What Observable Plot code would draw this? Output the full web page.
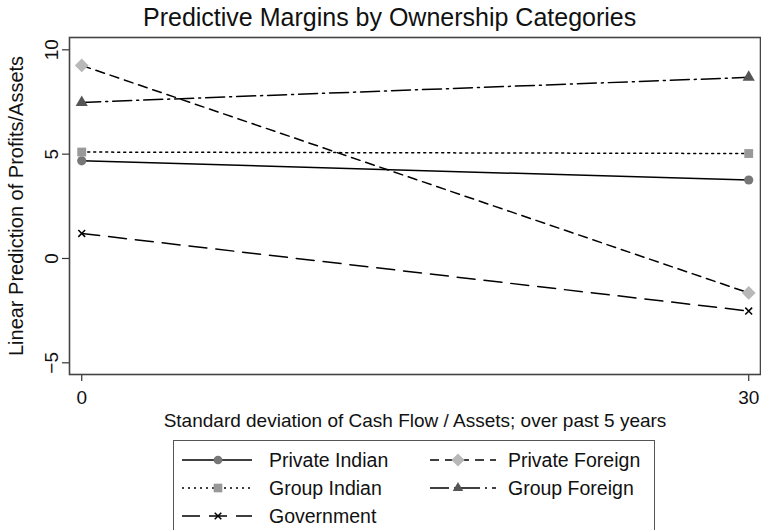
<!DOCTYPE html>
<html>
<head>
<meta charset="utf-8">
<script src="https://cdn.jsdelivr.net/npm/d3@7"></script>
<script src="https://cdn.jsdelivr.net/npm/@observablehq/plot@0.6"></script>
<style>
  html, body { margin: 0; padding: 0; background: #fff; }
  #wrap { position: relative; width: 761px; height: 530px; overflow: hidden; font-family: "Liberation Sans", Arial, sans-serif; }
  #title { position: absolute; top: 3px; left: 143px; white-space: nowrap; font-size: 25px; color: #111; }
  #legend { position: absolute; left: 173px; top: 440px; width: 482px; height: 110px; border: 1px solid #555; box-sizing: border-box; background: #fff; }
  #chart g[aria-label="y-axis label"] text { font-size: 20px; }
</style>
</head>
<body>
<div id="wrap">
  <div id="chart"></div>
  <div id="title">Predictive Margins by Ownership Categories</div>
  <div id="legend"></div>
</div>
<script>
const xValues = [0, 30];
const seriesNames = ["Private Indian", "Private Foreign", "Group Indian", "Group Foreign", "Government"];
const privateIndian = [4.68, 3.76];
const privateForeign = [9.25, -1.65];
const groupIndian = [5.10, 5.03];
const groupForeign = [7.48, 8.68];
const government = [1.20, -2.52];
const yTicks = [-5, 0, 5, 10];
const xTicks = [0, 30];

const valuesBySeries = [privateIndian, privateForeign, groupIndian, groupForeign, government];
const dashes = ["none", "9,6", "2,4", "19,5,2,5", "18,9"];
const symbols = ["circle", "diamond2", "square", "triangle2", "times"];
const fills = ["#777777", "#b8b8b8", "#999999", "#555555", "#000000"];

const data = [];
seriesNames.forEach((s, i) => xValues.forEach((x, j) => data.push({series: s, x, y: valuesBySeries[i][j], idx: i})));

const marks = [];
seriesNames.forEach((s, i) => {
  marks.push(Plot.line(data.filter(d => d.series === s), {x: "x", y: "y", stroke: "#000", strokeWidth: 1.5, strokeDasharray: dashes[i]}));
});
seriesNames.forEach((s, i) => {
  const sub = data.filter(d => d.series === s);
  if (symbols[i] === "times") {
    marks.push(Plot.dot(sub, {x: "x", y: "y", symbol: "times", r: 3.2, stroke: "#000", strokeWidth: 1.5}));
  } else {
    const r = symbols[i] === "diamond2" ? 6.2 : symbols[i] === "square" ? 5 : symbols[i] === "triangle2" ? 5.8 : 4.6;
    marks.push(Plot.dot(sub, {x: "x", y: "y", symbol: symbols[i], r, fill: fills[i], stroke: "none"}));
  }
});

const chart = Plot.plot({
  width: 761,
  height: 530,
  marginTop: 37,
  marginBottom: 156,
  marginLeft: 69,
  marginRight: 1,
  style: {fontFamily: "Liberation Sans, Arial, sans-serif", background: "#fff"},
  x: {domain: [-0.55, 30.53]},
  y: {domain: [-5.56, 10.59]},
  marks: [
    Plot.axisX({ticks: xTicks, tickSize: 7, tickPadding: 9, fontSize: 19, label: "Standard deviation of Cash Flow / Assets; over past 5 years", labelAnchor: "center", labelArrow: "none", labelOffset: 52, stroke: "#333", strokeWidth: 1.2, color: "#111"}),
    Plot.axisY({ticks: yTicks, tickSize: 7, tickPadding: 5, fontSize: 19, tickRotate: -90, label: "Linear Prediction of Profits/Assets", labelAnchor: "center", labelArrow: "none", labelOffset: 61, stroke: "#333", strokeWidth: 1.2, color: "#111"}),
    ...marks,
    Plot.frame({stroke: "#444", strokeWidth: 1.6})
  ]
});
document.getElementById("chart").appendChild(chart);

// legend
const legendRows = [[0, 1], [2, 3], [4]];
const leg = d3.select("#legend").append("svg").attr("width", 482).attr("height", 110)
  .style("font-family", "Liberation Sans, Arial, sans-serif");
const colX = [8, 256];
legendRows.forEach((row, r) => {
  row.forEach((i, c) => {
    const g = leg.append("g").attr("transform", `translate(${colX[c]},${19 + r * 28})`);
    g.append("line").attr("x1", 0).attr("x2", 70 - (c ? 4 : 0)).attr("y1", 0).attr("y2", 0)
      .attr("stroke", "#000").attr("stroke-width", 1.5).attr("stroke-dasharray", dashes[i] === "none" ? null : dashes[i]);
    const cx = c ? 28 : 36;
    const sym = {circle: d3.symbolCircle, diamond2: d3.symbolDiamond2, square: d3.symbolSquare, triangle2: d3.symbolTriangle2, times: d3.symbolTimes}[symbols[i]];
    const size = {circle: 60, diamond2: 110, square: 75, triangle2: 80, times: 30}[symbols[i]];
    const p = g.append("path").attr("d", d3.symbol(sym, size)()).attr("transform", `translate(${cx},0)`);
    if (symbols[i] === "times") p.attr("fill", "none").attr("stroke", "#000").attr("stroke-width", 1.5);
    else p.attr("fill", fills[i]);
    g.append("text").attr("x", c ? 78 : 87).attr("y", 7).attr("font-size", 19.5).attr("fill", "#111").text(seriesNames[i]);
  });
});
</script>
</body>
</html>
